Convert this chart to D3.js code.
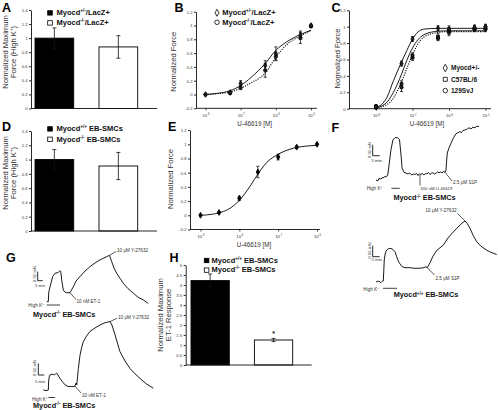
<!DOCTYPE html>
<html><head><meta charset="utf-8">
<script src="https://cdn.jsdelivr.net/npm/d3@7"></script>
<style>body{margin:0;background:#fff}svg{display:block;font-family:"Liberation Sans",Arial,Helvetica,sans-serif}</style>
</head><body><svg id="c" width="498" height="410"></svg>
<script>
// ---------------- DATA ----------------
const groupsA = ["Myocd^{+/-}/LacZ+", "Myocd^{-/-}/LacZ+"];
const meansA = [1.0, 0.875];
const errsA = [0.145, 0.16];
const groupsD = ["Myocd^{+/+} EB-SMCs", "Myocd^{-/-} EB-SMCs"];
const meansD = [1.0, 0.91];
const errsD = [0.14, 0.19];
const meansH = [4.22, 1.25];
const errsH = [0.33, 0.08];
const ticksBar = [0, 0.2, 0.4, 0.6, 0.8, 1, 1.2, 1.4];
const ticksH = [0, 0.5, 1, 1.5, 2, 2.5, 3, 3.5, 4, 4.5, 5];
const ticksForce = [-0.2, 0, 0.2, 0.4, 0.6, 0.8, 1, 1.2];
const ticksForceC = [0, 0.2, 0.4, 0.6, 0.8, 1, 1.2];

const concB = [1e-8, 5e-8, 1e-7, 5e-7, 1e-6, 5e-6, 1e-5];
const bHetMean = [0, 0.03, 0.16, 0.42, 0.59, 0.86, 1.0];
const bHetErr = [0.01, 0.02, 0.04, 0.07, 0.1, 0.06, 0.02];
const bKoMean = [0, 0.02, 0.10, 0.35, 0.55, 0.82, 0.99];
const bKoErr = [0.01, 0.015, 0.03, 0.1, 0.05, 0.08, 0.02];
const bFitHet = [[1e-8,0],[2e-8,0.015],[5e-8,0.055],[1e-7,0.13],[2e-7,0.25],[5e-7,0.45],[1e-6,0.64],[2e-6,0.76],[5e-6,0.87],[1e-5,0.93]];
const bFitKo = [[1e-8,0],[2e-8,0.01],[5e-8,0.035],[1e-7,0.09],[2e-7,0.17],[5e-7,0.31],[1e-6,0.54],[2e-6,0.72],[5e-6,0.85],[1e-5,0.93]];
const decadesBC = [1e-8, 1e-7, 1e-6, 1e-5];
const decadeLabelsBC = ["10^{-8}", "10^{-7}", "10^{-6}", "10^{-5}"];

const concC = [1e-8, 5e-8, 1e-7, 5e-7, 1e-6, 5e-6, 1e-5];
const cHetMean = [0.02, 0.55, 0.85, 0.98, 0.97, 0.99, 1.0];
const cHetErr = [0.02, 0.03, 0.03, 0.03, 0.04, 0.03, 0.03];
const cB6Mean = [0.02, 0.30, 0.65, 0.88, 0.95, 0.98, 0.99];
const cB6Err = [0.02, 0.04, 0.03, 0.04, 0.04, 0.03, 0.03];
const cSvMean = [0.03, 0.26, 0.62, 0.86, 0.93, 0.97, 0.97];
const cSvErr = [0.02, 0.05, 0.03, 0.03, 0.04, 0.03, 0.03];
const cFitHet = [[1e-8,0.01],[2e-8,0.14],[3e-8,0.34],[5e-8,0.57],[7e-8,0.71],[1e-7,0.85],[2e-7,0.97],[5e-7,0.98],[1e-6,0.98],[1e-5,0.98]];
const cFitB6 = [[1e-8,0.01],[2e-8,0.08],[3e-8,0.2],[5e-8,0.42],[7e-8,0.59],[1e-7,0.74],[2e-7,0.9],[5e-7,0.945],[1e-6,0.95],[1e-5,0.95]];
const cFitSv = [[1e-8,0.01],[2e-8,0.05],[3e-8,0.13],[5e-8,0.33],[7e-8,0.49],[1e-7,0.66],[2e-7,0.87],[5e-7,0.93],[1e-6,0.94],[1e-5,0.94]];
const legendC = ["Myocd+/-", "C57BL/6", "129SvJ"];

const concE = [1e-9, 3e-9, 1e-8, 3e-8, 1e-7, 3e-7, 1e-6];
const eMean = [0, 0.04, 0.24, 0.61, 0.82, 0.96, 1.0];
const eErr = [0.01, 0.01, 0.03, 0.08, 0.04, 0.02, 0.01];
const eFit = [[1e-9,0],[2e-9,0.015],[3e-9,0.035],[5e-9,0.08],[1e-8,0.21],[2e-8,0.43],[3e-8,0.58],[5e-8,0.74],[1e-7,0.86],[2e-7,0.93],[3e-7,0.955],[1e-6,0.985]];
const decadesE = [1e-9, 1e-8, 1e-7, 1e-6];
const decadeLabelsE = ["10^{-9}", "10^{-8}", "10^{-7}", "10^{-6}"];

// force traces: [time (min), force (uN)]
const traceF_KO = [[0,0],[1.4,-1.5],[2.1,2.7],[3.6,1.8],[4.3,4.5],[5,3.6],[6.4,6.4],[7.1,5.5],[8.4,9.1],[9.3,27],[10.7,55],[12.1,73],[13.6,77],[15.4,77],[16.8,73],[17.9,45],[18.6,22],[20,14],[22.9,11],[24,12.5],[25.7,9],[26.8,11],[27.9,10],[29,12],[30,8],[31,11.5],[32.1,10],[33,12],[34.3,9],[35.4,12],[36.4,11],[37.5,13.5],[38.6,10],[39.7,12.5],[40.7,13],[41.8,11],[42.9,12],[44,15],[45,13],[46.1,14.5],[47.1,13],[48.2,15.5],[49.3,14],[50,18],[50.4,33],[50.9,49],[52.1,58],[53.6,67],[55.2,76],[57.1,84],[58.6,86],[60,88],[61,86],[62.1,90],[63.5,91],[64.8,92],[66.4,95],[67.9,93],[69.3,96],[70.7,95],[72.1,98],[73.6,97]];
const traceF_WT = [[0,0],[1.4,1.5],[2.1,1.8],[2.9,-0.5],[3.6,-1],[4.3,1],[5.2,1.8],[5.6,22],[5.9,40],[6.4,49],[7.1,56],[8.1,59],[9.3,61],[10.7,61],[12.1,59],[13.6,55],[14.6,47],[15.9,38],[17.1,33],[18.6,28],[20.7,26],[24.3,26],[27.1,25],[30.7,25],[34.3,26],[35.7,28],[36.6,26],[38.6,35],[40.7,47],[43.6,58],[48.1,67],[51.4,80],[55.2,91],[58.6,100],[61.4,107],[63.6,111],[65,107],[67.1,98],[69.3,85],[72,73],[75,65],[79,58],[82.1,54],[86.2,50]];
const traceG1 = [[0,0],[1.6,0],[2.1,22],[3.3,33],[6,56],[8.3,63],[11.6,65],[13.3,69],[14,67],[14.6,57],[15,48],[16.6,26],[18.3,21],[20,20],[23.3,20],[26.6,33],[29.3,46],[33.3,56],[38.3,68],[43.3,78],[48.3,86],[53.3,93],[57.3,97],[61.6,102],[62.8,103],[65,89],[67.3,75],[70,63],[73.3,52],[76.6,41],[81.3,29],[86.6,19],[91.3,10],[96.6,4],[101.6,-4]];
const traceG2 = [[0,0],[2.25,-1],[4.2,0],[4.4,14],[4.9,22],[5.6,26],[6.8,27],[8.3,27],[9.3,26],[10.2,28],[11.2,29],[12.2,26],[13.9,20],[16,14],[18.1,9],[20.6,6],[23.7,6],[25.6,6],[26.4,7],[27.3,12],[27.9,9],[28.5,21],[29.2,37],[30.6,60],[31.8,72],[33.3,83],[36,93],[38.9,101],[43.1,107],[47.2,112],[51.4,116],[55.6,118],[57.2,112],[59.8,95],[61.8,81],[63.9,66],[68.1,50],[72.3,37],[76.4,28],[80.6,20],[85.6,11],[91.7,3]];
const scaleBarMin = 5, scaleBarUN = 20;

// ---------------- HELPERS ----------------
const svg = d3.select("#c");
const INK = "#111", GREY = "#333";

function rich(t, str, fs) {
  const parts = str.split(/(\^\{[^}]*\})/);
  let up = false;
  parts.forEach(p => {
    if (!p) return;
    if (p.startsWith("^{")) {
      t.append("tspan").attr("font-size", fs * 0.62).attr("dy", -fs * 0.38).text(p.slice(2, -1));
      up = true;
    } else {
      const s = t.append("tspan").text(p);
      if (up) { s.attr("dy", fs * 0.38); up = false; }
    }
  });
  return t;
}
function text(x, y, str, fs, opt = {}) {
  const t = svg.append("text").attr("x", x).attr("y", y).attr("font-size", fs)
    .attr("fill", opt.fill || INK).attr("font-weight", opt.bold ? "bold" : "normal")
    .attr("text-anchor", opt.anchor || "start");
  return rich(t, str, fs);
}
function rotText(x, yc, str, fs) {
  const t = svg.append("text").attr("transform", `translate(${x},${yc}) rotate(-90)`)
    .attr("font-size", fs).attr("fill", GREY).attr("text-anchor", "middle");
  return rich(t, str, fs);
}
function letter(s, x, y) { svg.append("text").attr("x", x).attr("y", y).attr("font-size", 12.5).attr("font-weight", "bold").attr("fill", "#000").text(s); }
function line(x1, y1, x2, y2, w = 0.9) { svg.append("line").attr("x1", x1).attr("y1", y1).attr("x2", x2).attr("y2", y2).attr("stroke", INK).attr("stroke-width", w); }
const fmt = d => String(+d.toFixed(2));
function yAxis(scale, ticks, x) {
  const g = svg.append("g").attr("transform", `translate(${x},0)`)
    .call(d3.axisLeft(scale).tickValues(ticks).tickSize(2).tickSizeOuter(0).tickPadding(1.5).tickFormat(fmt));
  g.selectAll("text").attr("font-size", 4.2).attr("fill", GREY).attr("font-family", null);
  g.selectAll("line,path").attr("stroke", INK).attr("stroke-width", 0.9);
  return g;
}
function logXAxis(scale, ticks, labels, y, x0, x1) {
  line(x0, y, x1, y);
  const g = svg.append("g").attr("transform", `translate(0,${y})`)
    .call(d3.axisBottom(scale).tickValues(ticks).tickSize(2).tickPadding(2).tickFormat(""));
  g.select(".domain").remove();
  g.selectAll("line").attr("stroke", INK).attr("stroke-width", 0.8);
  g.selectAll(".tick").each(function (d, i) {
    const t = d3.select(this).append("text").attr("y", 8.5).attr("font-size", 4.2).attr("fill", GREY).attr("text-anchor", "middle");
    rich(t, labels[i], 4.2);
  });
}
function errBars(xs, ys, means, errs, cap) {
  means.forEach((m, i) => {
    const x = xs(i), yt = ys(m + errs[i]), yb = ys(m - errs[i]);
    line(x, yt, x, yb, 0.8);
    line(x - cap, yt, x + cap, yt, 0.8);
    line(x - cap, yb, x + cap, yb, 0.8);
  });
}
function barChart(groups, means, errs, x, y, fillCols) {
  svg.append("g").selectAll("rect").data(means).join("rect")
    .attr("x", (d, i) => x(groups[i])).attr("width", x.bandwidth())
    .attr("y", d => y(d)).attr("height", d => y(0) - y(d))
    .attr("fill", (d, i) => fillCols[i]).attr("stroke", "#000").attr("stroke-width", 0.9);
  errBars(i => x(groups[i]) + x.bandwidth() / 2, y, means, errs, 2);
}
function markers(xs, ys, conc, means, type, size, fill) {
  svg.append("g").selectAll("path").data(means).join("path")
    .attr("transform", (d, i) => `translate(${xs(conc[i])},${ys(d)})`)
    .attr("d", d3.symbol().type(type).size(size))
    .attr("fill", fill).attr("stroke", "#000").attr("stroke-width", 0.8);
}
function fitLine(xs, ys, pts, dashed) {
  svg.append("path").datum(pts)
    .attr("d", d3.line().x(d => xs(d[0])).y(d => ys(d[1])).curve(d3.curveMonotoneX))
    .attr("fill", "none").attr("stroke", "#000").attr("stroke-width", dashed ? 1.1 : 0.9)
    .attr("stroke-dasharray", dashed ? "1.1,1.3" : null);
}
function legendSym(x, y, type, size, fill) {
  svg.append("path").attr("transform", `translate(${x},${y})`).attr("d", d3.symbol().type(type).size(size))
    .attr("fill", fill).attr("stroke", "#000").attr("stroke-width", 0.8);
}

// ---------------- PANEL A ----------------
letter("A", 2, 11.7);
const yA = d3.scaleLinear().domain([0, 1.4]).range([108.5, 10]);
const xA = d3.scaleBand().domain(groupsA).range([35, 137.7]).paddingInner(0.395).paddingOuter(0);
barChart(groupsA, meansA, errsA, xA, yA, ["#000", "#fff"]);
yAxis(yA, ticksBar, 31);
line(31, yA(0), 157, yA(0));
rotText(8.3, 52, "Normalized Maximum", 7.6);
rotText(16, 52, "Force (High K^{+})", 7.6);
groupsA.forEach((g, i) => {
  svg.append("rect").attr("x", 47.7).attr("y", 10.7 + i * 10).attr("width", 4.6).attr("height", 4.4)
    .attr("fill", i ? "#fff" : "#000").attr("stroke", "#000").attr("stroke-width", 0.8);
  text(56.5, 15.2 + i * 10, g, 7.5, { bold: true });
});

// ---------------- PANEL D ----------------
letter("D", 2, 130.7);
const yD = d3.scaleLinear().domain([0, 1.4]).range([231, 131]);
const xD = d3.scaleBand().domain(groupsD).range([35, 137.7]).paddingInner(0.395).paddingOuter(0);
barChart(groupsD, meansD, errsD, xD, yD, ["#000", "#fff"]);
yAxis(yD, ticksBar, 31);
line(31, yD(0), 157, yD(0));
rotText(8.3, 173, "Normalized Maximum", 7.6);
rotText(16, 173, "Force (High K^{+})", 7.6);
groupsD.forEach((g, i) => {
  svg.append("rect").attr("x", 47.7).attr("y", 126.7 + i * 10.4).attr("width", 4.6).attr("height", 4.4)
    .attr("fill", i ? "#fff" : "#000").attr("stroke", "#000").attr("stroke-width", 0.8);
  text(56.5, 131.2 + i * 10.4, g, 7.5, { bold: true });
});

// ---------------- PANEL B ----------------
letter("B", 174.5, 11.7);
const yB = d3.scaleLinear().domain([-0.2, 1.2]).range([108.3, 11.7]);
const xB = d3.scaleLog().domain([1e-8, 1e-5]).range([205.5, 311]);
yAxis(yB, ticksForce, 196);
logXAxis(xB, decadesBC, decadeLabelsBC, yB(-0.2), 196, 317);
fitLine(xB, yB, bFitHet, false);
fitLine(xB, yB, bFitKo, true);
errBars(i => xB(concB[i]), yB, bHetMean, bHetErr, 1.5);
errBars(i => xB(concB[i]), yB, bKoMean, bKoErr, 1.5);
markers(xB, yB, concB, bKoMean, d3.symbolCircle, 9, "#222");
markers(xB, yB, concB, bHetMean, d3.symbolDiamond, 9, "#222");
rotText(175.5, 61.7, "Normalized Force", 7.6);
text(254.7, 126, "U-46619 [M]", 6.3, { anchor: "middle", fill: GREY });
legendSym(217, 12.8, d3.symbolDiamond, 14, "#fff");
text(222.3, 15.2, "Myocd^{+/-}/LacZ+", 7.5, { bold: true });
legendSym(217, 22.3, d3.symbolCircle, 16, "#fff");
text(222.3, 24.7, "Myocd^{-/-}/LacZ+", 7.5, { bold: true });

// ---------------- PANEL C ----------------
letter("C", 331.5, 11.7);
const yC = d3.scaleLinear().domain([0, 1.2]).range([108.7, 10.3]);
const xC = d3.scaleLog().domain([1e-8, 1e-5]).range([376, 485.5]);
yAxis(yC, ticksForceC, 349);
logXAxis(xC, decadesBC, decadeLabelsBC, yC(0), 349, 491);
fitLine(xC, yC, cFitHet, false);
fitLine(xC, yC, cFitB6, false);
fitLine(xC, yC, cFitSv, true);
errBars(i => xC(concC[i]), yC, cHetMean, cHetErr, 1.5);
errBars(i => xC(concC[i]), yC, cB6Mean, cB6Err, 1.5);
errBars(i => xC(concC[i]), yC, cSvMean, cSvErr, 1.5);
markers(xC, yC, concC, cSvMean, d3.symbolCircle, 9, "#222");
markers(xC, yC, concC, cB6Mean, d3.symbolSquare, 8, "#222");
markers(xC, yC, concC, cHetMean, d3.symbolDiamond, 9, "#222");
rotText(339.5, 58.5, "Normalized Force", 7.6);
text(427, 126, "U-46619 [M]", 6.3, { anchor: "middle", fill: GREY });
[d3.symbolDiamond, d3.symbolSquare, d3.symbolCircle].forEach((s, i) => {
  legendSym(445.3, 68 + i * 11.3, s, 16, "#fff");
  text(451, 70.3 + i * 11.3, legendC[i], 6.5, { bold: true });
});

// ---------------- PANEL E ----------------
letter("E", 168, 130.7);
const yE = d3.scaleLinear().domain([-0.2, 1.2]).range([229.5, 130.1]);
const xE = d3.scaleLog().domain([1e-9, 1e-6]).range([200.5, 317]);
yAxis(yE, ticksForce, 190);
logXAxis(xE, decadesE, decadeLabelsE, yE(-0.2), 190, 320);
fitLine(xE, yE, eFit, false);
errBars(i => xE(concE[i]), yE, eMean, eErr, 1.5);
markers(xE, yE, concE, eMean, d3.symbolDiamond, 10, "#000");
rotText(173, 179, "Normalized Force", 7.6);
text(254, 246.5, "U-46619 [M]", 6.3, { anchor: "middle", fill: GREY });

// ---------------- PANEL H ----------------
letter("H", 169.5, 262);
const groupsH = groupsD;
const yH = d3.scaleLinear().domain([0, 5]).range([365, 265]);
const xH = d3.scaleBand().domain(groupsH).range([191, 292.7]).paddingInner(0.396).paddingOuter(0);
barChart(groupsH, meansH, errsH, xH, yH, ["#000", "#fff"]);
yAxis(yH, ticksH, 185.7);
line(185.7, yH(0), 311.7, yH(0));
text(xH(groupsH[1]) + xH.bandwidth() / 2, yH(meansH[1] + errsH[1]) - 2.2, "*", 7, { anchor: "middle", bold: true });
rotText(163, 315, "Normalized Maximum", 7.6);
rotText(171, 315, "ET-1 Response", 7.6);
groupsH.forEach((g, i) => {
  svg.append("rect").attr("x", 204.3).attr("y", 258.3 + i * 9.6).attr("width", 4.6).attr("height", 4.4)
    .attr("fill", i ? "#fff" : "#000").attr("stroke", "#000").attr("stroke-width", 0.8);
  text(211.5, 262.7 + i * 9.6, g, 7.5, { bold: true });
});

// ---------------- TRACES ----------------
function trace(data, x0, yb, kx, ky) {
  const x = d3.scaleLinear().domain([0, 100]).range([x0, x0 + 100 * kx]);
  const y = d3.scaleLinear().domain([0, 100]).range([yb, yb - 100 * ky]);
  svg.append("path").datum(data).attr("d", d3.line().x(d => x(d[0])).y(d => y(d[1])))
    .attr("fill", "none").attr("stroke", "#000").attr("stroke-width", 0.9).attr("stroke-linejoin", "round");
  return { x, y };
}
function scaleBar(s, cx, cy, lblX, lblYc, minX, minY) {
  const w = s.x(scaleBarMin) - s.x(0), h = s.y(0) - s.y(scaleBarUN);
  line(cx, cy, cx, cy - h, 0.9);
  line(cx, cy, cx + w, cy, 0.9);
  svg.append("text").attr("transform", `translate(${lblX},${lblYc}) rotate(-90)`).attr("font-size", 4.3)
    .attr("fill", GREY).attr("text-anchor", "middle").text("0.02 mN");
  text(minX, minY, "5 min", 4.3, { fill: GREY });
}
function annot(s, d, lx, ly, tx, ty, label, anchor) {
  line(s.x(d[0]), s.y(d[1]), lx, ly, 0.7);
  text(tx, ty, label, 4.6, { fill: GREY, anchor: anchor || "start" });
}
function kBar(s, t0, t1, y, tx, ty) {
  line(s.x(t0), y, s.x(t1), y, 0.8);
  text(tx, ty, "High K^{+}", 4.6, { fill: GREY });
}

// F top (Myocd-/-)
letter("F", 331.5, 131.5);
const sFK = trace(traceF_KO, 376, 180, 1.4, 0.55);
scaleBar(sFK, 372.7, 155.7, 371, 150, 371.5, 161.5);
kBar(sFK, 11, 17, 188.3, 366.7, 190);
line(sFK.x(31.4), sFK.y(11) + 1, sFK.x(31.4), 185.5, 0.7);
text(420.3, 190, "300 nM U-46619", 4.3, { fill: GREY });
annot(sFK, traceF_KO[42], 452, 181, 453, 184.2, "2.5 μM S1P");
text(424.5, 200.3, "Myocd^{-/-} EB-SMCs", 7.3, { bold: true, anchor: "middle" });

// F bottom (Myocd+/+)
const sFW = trace(traceF_WT, 376, 282, 1.4, 0.55);
scaleBar(sFW, 372.7, 256.7, 371, 250.5, 371.5, 261);
kBar(sFW, 5, 15, 288.3, 363.3, 290.5);
annot(sFW, traceF_WT[26], 434.5, 275, 435.5, 280, "2.5 μM S1P");
annot(sFW, traceF_WT[35], 457.5, 213.5, 456.5, 212, "10 μM Y-27632", "end");
text(426, 297.3, "Myocd^{+/+} EB-SMCs", 7.3, { bold: true, anchor: "middle" });

// G top
letter("G", 6, 262);
const sG1 = trace(traceG1, 46.7, 301.7, 1.0, 0.45);
scaleBar(sG1, 37.7, 280.7, 35.5, 274, 35, 286.5);
kBar(sG1, 0, 13.3, 305, 28.3, 306.6);
annot(sG1, traceG1[14], 76, 299.5, 76.5, 302.6, "10 nM ET-1");
annot(sG1, traceG1[24], 116, 251.5, 117, 252.3, "10 μM Y-27632");
text(33, 317.2, "Myocd^{-/-} EB-SMCs", 7.3, { bold: true });

// G bottom
const sG2 = trace(traceG2, 43.3, 390, 1.2, 0.58);
scaleBar(sG2, 38.3, 375, 35.8, 368, 35, 382.5);
kBar(sG2, 4.2, 9.8, 397.5, 32, 400.5);
annot(sG2, traceG2[18], 81, 393, 82, 396.6, "10 nM ET-1");
annot(sG2, traceG2[31], 117, 318.3, 118, 318.8, "10 μM Y-27632");
text(33, 407.8, "Myocd^{-/-} EB-SMCs", 7.3, { bold: true });
</script></body></html>
